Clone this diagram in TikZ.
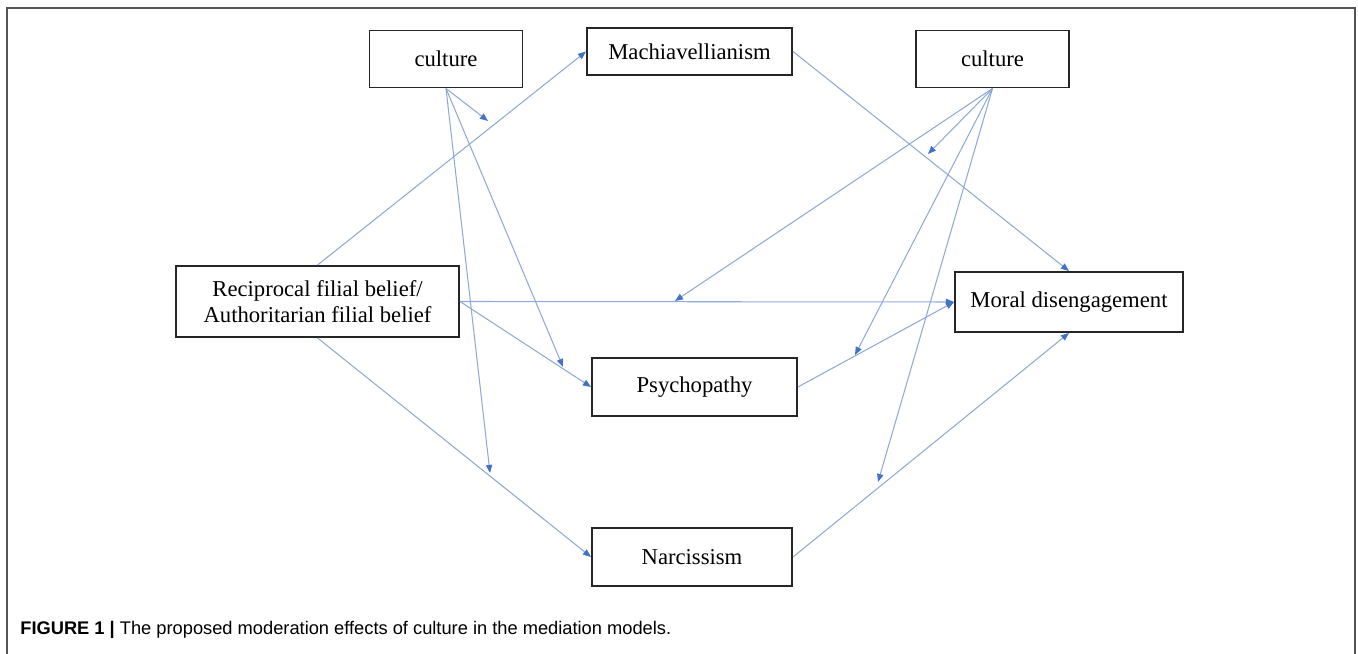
\documentclass[tikz,border=0pt]{standalone}
\usepackage{fontspec}
\setmainfont{Liberation Serif}
\setsansfont{Liberation Sans}
\usepackage{tikz}
\usetikzlibrary{arrows.meta,positioning,calc}
\definecolor{lineblue}{RGB}{143,170,214}
\definecolor{tipblue}{RGB}{68,114,196}
\definecolor{framegray}{RGB}{85,85,85}
\newcommand{\boxfont}{\fontsize{12.9}{14.8}\selectfont}

\begin{document}
\begin{tikzpicture}[x=2cm,y=2cm,
    var/.style={draw=black!85,line width=1.1pt,align=center,inner sep=0pt,font=\boxfont},
    arr/.style={draw=lineblue,line width=0.6pt,-{Triangle[length=4.6pt,width=3.6pt,color=tipblue]}}]
    \useasboundingbox (0,0) rectangle (13.58,6.54);
    % frame round the figure
    \draw[framegray,line width=1.1pt] (0.07,0) -- (0.07,6.46) -- (13.55,6.46) -- (13.55,0);
    % variables
    \node[var,minimum width=3.06cm,minimum height=1.14cm] (cultA) at (4.46,5.95) {culture};
    \node[var,minimum width=4.10cm,minimum height=0.94cm] (mach) at (6.895,6.025) {Machiavellianism};
    \node[var,minimum width=3.06cm,minimum height=1.14cm] (cultB) at (9.925,5.95) {culture};
    \node[var,minimum width=5.66cm,minimum height=1.42cm] (recip) at (3.175,3.525) {Reciprocal filial belief/\\Authoritarian filial belief};
    \node[var,minimum width=4.56cm,minimum height=1.20cm] (moral) at (10.69,3.52) {Moral disengagement};
    \node[var,minimum width=4.10cm,minimum height=1.16cm] (psych) at (6.945,2.67) {Psychopathy};
    \node[var,minimum width=4.00cm,minimum height=1.16cm] (narc) at (6.92,0.97) {Narcissism};
    % points where the moderating arrows end
    \coordinate (mA1) at (4.88,5.33);
    \coordinate (mA2) at (5.63,2.87);
    \coordinate (mA3) at (4.90,1.81);
    \coordinate (mB1) at (9.28,5.00);
    \coordinate (mB2) at (6.75,3.53);
    \coordinate (mB3) at (8.55,2.99);
    \coordinate (mB4) at (8.78,1.72);
    % paths
    \draw[arr] (recip.north) -- (mach.west);
    \draw[arr] (recip.east) -- (moral.west);
    \draw[arr] (recip.east) -- (psych.west);
    \draw[arr] (recip.south) -- (narc.west);
    \draw[arr] (mach.east) -- (moral.north);
    \draw[arr] (psych.east) -- (moral.west);
    \draw[arr] (narc.east) -- (moral.south);
    % culture as moderator
    \draw[arr] (cultA.south) -- (mA1);
    \draw[arr] (cultA.south) -- (mA2);
    \draw[arr] (cultA.south) -- (mA3);
    \draw[arr] (cultB.south) -- (mB1);
    \draw[arr] (cultB.south) -- (mB2);
    \draw[arr] (cultB.south) -- (mB3);
    \draw[arr] (cultB.south) -- (mB4);
    \node[anchor=base west,inner sep=0pt,font=\sffamily\fontsize{10.4}{12}\selectfont] (cap) at (0.20,0.19) {\textbf{FIGURE 1 |} The proposed moderation effects of culture in the mediation models.};
\end{tikzpicture}
\end{document}
